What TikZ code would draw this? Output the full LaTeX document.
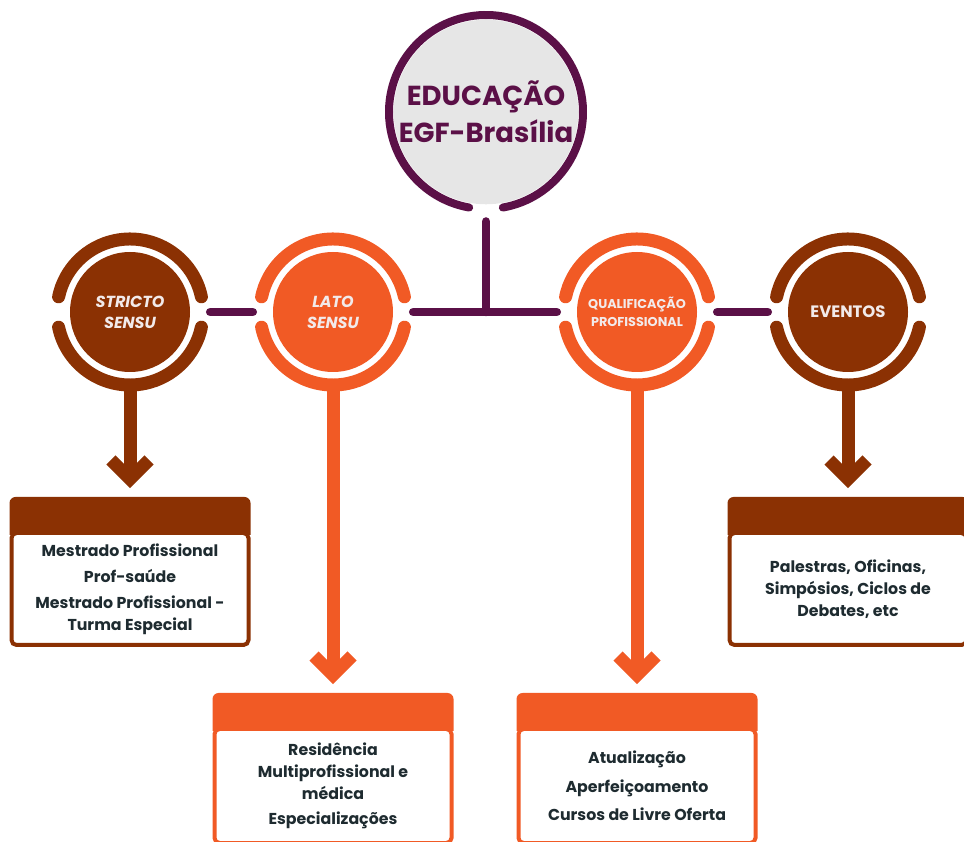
\documentclass[tikz,border=0pt]{standalone}
\usepackage{fontspec}
\setmainfont{Poppins}
\usetikzlibrary{positioning}

\definecolor{egfpurple}{HTML}{5B1047}
\definecolor{egfbrown}{HTML}{8B3103}
\definecolor{egforange}{HTML}{F15A25}
\definecolor{egfgray}{HTML}{E6E6E6}
\definecolor{egftext}{HTML}{1E2B30}
\definecolor{egflight}{HTML}{F2EAEA}

\tikzset{
  hub/.style={circle, fill=#1, text=egflight, minimum size=120, inner sep=0, align=center,
    font=\bfseries\itshape\fontsize{16}{21}\selectfont},
  ringarc/.style={draw=#1, line width=13, line cap=round},
  linkbar/.style={draw=egfpurple, line width=8.5, line cap=round},
  stemline/.style={draw=#1, line width=13},
  vhead/.style={draw=#1, line width=13, line join=miter},
  infobox/.style={draw=#1, fill=white, line width=4, rounded corners=5, minimum width=237,
    minimum height=112, align=center, text=egftext, font=\bfseries\fontsize{15.8}{22}\selectfont},
}

\begin{document}
\begin{tikzpicture}[x=1pt, y=1pt]
\clip (0,0) rectangle (964,841);

% top circle
\node[circle, fill=egfgray, minimum size=170, inner sep=0, align=center, text=egfpurple,
  font=\bfseries\fontsize{27.5}{37}\selectfont] (edu) at (486,729) {EDUCAÇÃO\\EGF-Brasília};
\draw[ringarc=egfpurple, line width=8] (edu.center) ++(-80:97) arc[start angle=-80, end angle=260, radius=97];

% the four branches
\node[hub=egfbrown] (stricto) at (130,529) {STRICTO\\SENSU};
\node[hub=egforange] (lato) at (333,529) {LATO\\SENSU};
\node[hub=egforange, font=\bfseries\fontsize{12.8}{18}\selectfont] (qual) at (637,529) {QUALIFICAÇÃO\\PROFISSIONAL};
\node[hub=egfbrown, font=\bfseries\fontsize{16.5}{21}\selectfont] (event) at (848,529) {EVENTOS};

\foreach \n/\c in {stricto/egfbrown, lato/egforange, qual/egforange, event/egfbrown} {
  \draw[ringarc=\c] (\n.center) ++(12:73) arc[start angle=12, end angle=168, radius=73];
  \draw[ringarc=\c] (\n.center) ++(192:73) arc[start angle=192, end angle=348, radius=73];
}

% connectors
\draw[linkbar, shorten <=17] (edu) -- (edu |- lato);
\draw[linkbar, shorten <=20, shorten >=20] (stricto) -- (lato);
\draw[linkbar, shorten <=20, shorten >=20] (lato) -- (qual);
\draw[linkbar, shorten <=20, shorten >=20] (qual) -- (event);

% boxes
\node[infobox=egfbrown] (box1) at (130,252) {Mestrado Profissional\\[4pt]Prof-saúde\\[4pt]Mestrado Profissional -\\Turma Especial};
\node[infobox=egforange, minimum height=114] (box2) at (333,55) {Residência\\Multiprofissional e\\médica\\[3pt]Especializações};
\node[infobox=egforange, minimum height=114] (box3) at (637,55) {Atualização\\[7pt]Aperfeiçoamento\\[6pt]Cursos de Livre Oferta};
\node[infobox=egfbrown] (box4) at (848,252) {Palestras, Oficinas,\\Simpósios, Ciclos de\\Debates, etc};

\foreach \b/\c in {box1/egfbrown, box2/egforange, box3/egforange, box4/egfbrown}
  \fill[\c] ([yshift=-4]\b.north west) [rounded corners=6] -- ([yshift=34]\b.north west)
    -- ([yshift=34]\b.north east) [sharp corners] -- ([yshift=-4]\b.north east) -- cycle;

% arrows down
\draw[stemline=egfbrown, shorten <=13, shorten >=52] (stricto) -- (box1);
\draw[stemline=egforange, shorten <=13, shorten >=52] (lato) -- (box2);
\draw[stemline=egforange, shorten <=13, shorten >=52] (qual) -- (box3);
\draw[stemline=egfbrown, shorten <=13, shorten >=52] (event) -- (box4);
\foreach \b/\c in {box1/egfbrown, box2/egforange, box3/egforange, box4/egfbrown}
  \draw[vhead=\c] ([shift={(-19,71)}]\b.north) -- ([yshift=52]\b.north) -- ([shift={(19,71)}]\b.north);
\end{tikzpicture}
\end{document}
